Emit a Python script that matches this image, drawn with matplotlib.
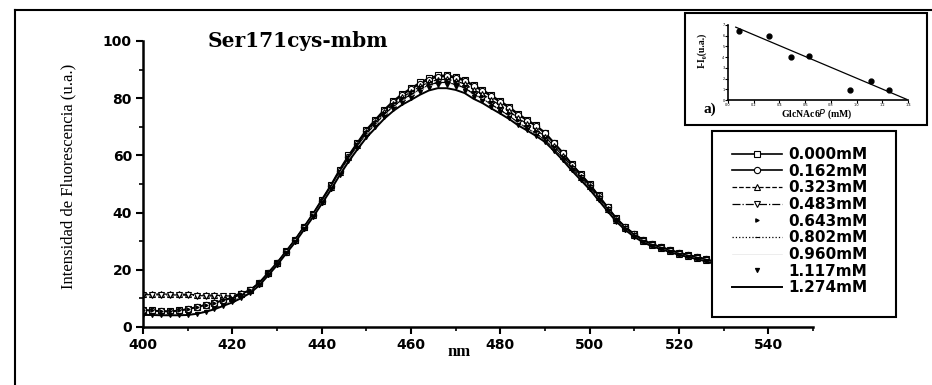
import numpy as np
import matplotlib
matplotlib.use("Agg")
from matplotlib import pyplot as plt
from matplotlib.lines import Line2D
from matplotlib.patches import Rectangle

# emission wavelengths (nm), 2 nm step
wl = np.arange(400, 531, 2)

# fluorescence intensity (u.a.) for each GlcNAc6P concentration
s000 = [6.0, 5.8, 5.6, 5.5, 5.8, 6.3, 7.0, 7.8, 8.5, 9.4,
        10.3, 11.6, 13.0, 15.5, 19.0, 22.5, 26.5, 30.5, 35.0, 39.5,
        44.5, 49.5, 55.0, 60.0, 64.5, 69.0, 72.5, 76.0, 79.0, 81.5,
        83.5, 85.5, 87.0, 88.0, 88.0, 87.5, 86.5, 84.5, 83.0, 81.0,
        79.0, 77.0, 74.5, 72.5, 70.5, 68.0, 64.5, 61.0, 57.0, 53.5,
        50.0, 46.0, 42.0, 38.0, 35.0, 32.5, 30.5, 29.0, 28.0, 27.0,
        26.0, 25.3, 24.5, 23.8, 22.8, 21.8]
s162 = [5.9, 5.7, 5.5, 5.4, 5.7, 6.2, 6.9, 7.7, 8.4, 9.3,
        10.2, 11.5, 12.9, 15.3, 18.8, 22.3, 26.3, 30.3, 34.8, 39.3,
        44.2, 49.2, 54.6, 59.6, 64.1, 68.5, 72.1, 75.6, 78.6, 81.1,
        83.1, 85.0, 86.5, 87.5, 87.6, 87.1, 86.1, 84.2, 82.6, 80.6,
        78.6, 76.6, 74.2, 72.2, 70.2, 67.7, 64.2, 60.7, 56.8, 53.3,
        49.8, 45.8, 41.8, 37.9, 34.9, 32.4, 30.4, 28.9, 27.9, 26.9,
        25.9, 25.2, 24.4, 23.7, 22.7, 21.7]
s323 = [11.6, 11.6, 11.5, 11.5, 11.5, 11.4, 11.3, 11.2, 11.1, 11.0,
        11.0, 11.8, 13.0, 15.3, 18.8, 22.3, 26.3, 30.3, 34.8, 39.3,
        44.0, 49.0, 54.3, 59.3, 63.8, 68.1, 71.6, 75.0, 77.9, 80.3,
        82.2, 84.1, 85.6, 86.5, 86.6, 86.0, 85.0, 83.0, 81.4, 79.4,
        77.5, 75.5, 73.0, 71.0, 69.0, 66.6, 63.2, 59.8, 56.0, 52.6,
        49.2, 45.3, 41.4, 37.5, 34.5, 32.1, 30.1, 28.6, 27.6, 26.6,
        25.6, 24.9, 24.1, 23.4, 22.4, 21.4]
s483 = [11.3, 11.3, 11.2, 11.2, 11.2, 11.1, 11.0, 10.9, 10.8, 10.8,
        10.9, 11.6, 12.8, 15.1, 18.6, 22.1, 26.1, 30.0, 34.5, 39.0,
        43.7, 48.6, 53.9, 58.8, 63.2, 67.5, 70.9, 74.3, 77.1, 79.5,
        81.3, 83.2, 84.6, 85.5, 85.5, 84.8, 83.6, 81.5, 79.8, 77.8,
        75.8, 73.8, 71.4, 69.5, 67.6, 65.4, 62.2, 58.9, 55.3, 52.0,
        48.6, 44.8, 41.0, 37.2, 34.3, 31.9, 29.9, 28.5, 27.5, 26.5,
        25.5, 24.8, 24.0, 23.3, 22.3, 21.3]
s643 = [6.0, 5.8, 5.6, 5.5, 5.8, 6.3, 7.0, 7.8, 8.5, 9.4,
        10.3, 11.5, 12.9, 15.3, 18.8, 22.3, 26.2, 30.2, 34.6, 39.1,
        43.9, 48.9, 54.2, 59.1, 63.5, 67.8, 71.2, 74.7, 77.5, 79.9,
        81.8, 83.7, 85.1, 86.0, 86.0, 85.4, 84.3, 82.2, 80.6, 78.6,
        76.7, 74.7, 72.3, 70.4, 68.4, 66.1, 62.8, 59.4, 55.7, 52.4,
        49.0, 45.1, 41.2, 37.4, 34.5, 32.0, 30.0, 28.6, 27.6, 26.6,
        25.6, 24.9, 24.1, 23.4, 22.4, 21.4]
s802 = [4.5, 4.4, 4.4, 4.3, 4.3, 4.4, 4.8, 5.5, 6.5, 7.7,
        8.9, 10.4, 12.2, 14.8, 18.3, 21.9, 25.9, 29.9, 34.3, 38.8,
        43.6, 48.5, 53.8, 58.7, 63.1, 67.4, 70.8, 74.2, 77.0, 79.4,
        81.2, 83.1, 84.6, 85.5, 85.5, 84.8, 83.6, 81.5, 79.8, 77.8,
        75.8, 73.8, 71.4, 69.5, 67.6, 65.4, 62.2, 58.9, 55.3, 52.0,
        48.6, 44.8, 41.0, 37.2, 34.3, 31.9, 29.9, 28.5, 27.5, 26.5,
        25.5, 24.8, 24.0, 23.3, 22.3, 21.3]
s960 = [4.4, 4.4, 4.3, 4.3, 4.3, 4.4, 4.8, 5.5, 6.4, 7.6,
        8.8, 10.3, 12.1, 14.7, 18.2, 21.8, 25.8, 29.8, 34.2, 38.7,
        43.4, 48.3, 53.6, 58.4, 62.8, 67.0, 70.4, 73.8, 76.6, 78.9,
        80.7, 82.6, 84.1, 85.0, 85.0, 84.3, 83.1, 81.0, 79.3, 77.3,
        75.4, 73.4, 71.0, 69.1, 67.2, 65.0, 61.9, 58.6, 55.0, 51.7,
        48.4, 44.6, 40.8, 37.0, 34.1, 31.7, 29.8, 28.4, 27.4, 26.4,
        25.4, 24.7, 23.9, 23.2, 22.2, 21.2]
s1117 = [4.3, 4.3, 4.2, 4.2, 4.2, 4.3, 4.7, 5.4, 6.3, 7.5,
         8.7, 10.2, 12.0, 14.6, 18.1, 21.7, 25.7, 29.7, 34.1, 38.5,
         43.2, 48.1, 53.3, 58.1, 62.5, 66.6, 70.0, 73.4, 76.1, 78.4,
         80.2, 82.1, 83.6, 84.5, 84.5, 83.8, 82.6, 80.5, 78.9, 76.9,
         75.0, 73.0, 70.7, 68.8, 66.9, 64.8, 61.7, 58.4, 54.8, 51.5,
         48.2, 44.4, 40.6, 36.9, 34.0, 31.6, 29.7, 28.3, 27.3, 26.3,
         25.3, 24.6, 23.8, 23.1, 22.1, 21.1]
s1274 = [4.2, 4.2, 4.1, 4.1, 4.1, 4.2, 4.6, 5.3, 6.2, 7.4,
         8.6, 10.1, 11.9, 14.5, 18.0, 21.6, 25.6, 29.5, 33.9, 38.3,
         43.0, 47.8, 53.0, 57.8, 62.1, 66.2, 69.5, 72.8, 75.5, 77.7,
         79.4, 81.2, 82.7, 83.5, 83.5, 82.9, 81.8, 79.8, 78.3, 76.4,
         74.6, 72.7, 70.5, 68.7, 66.8, 64.7, 61.6, 58.3, 54.7, 51.4,
         48.1, 44.3, 40.5, 36.8, 33.9, 31.5, 29.6, 28.2, 27.2, 26.2,
         25.2, 24.5, 23.7, 23.0, 22.0, 21.0]

labels = ["0.000mM", "0.162mM", "0.323mM", "0.483mM", "0.643mM",
          "0.802mM", "0.960mM", "1.117mM", "1.274mM"]
series = [s000, s162, s323, s483, s643, s802, s960, s1117, s1274]

# inset a): I - I0 vs GlcNAc6P
ins_x = [0.085, 0.32, 0.49, 0.63, 0.95, 1.11, 1.25]
ins_y = [6.4, 6.0, 4.0, 4.1, 0.9, 1.8, 0.9]
fit_x = [0.06, 1.39]
fit_y = [6.8, 0.06]

W, H = 932, 385
fig = plt.figure(figsize=(W / 100, H / 100), dpi=100)

# outer frame of the scanned page
fig.add_artist(Line2D([15 / W, 15 / W], [0, 1 - 10 / H], color="k", lw=1.5))
fig.add_artist(Line2D([15 / W, 1], [1 - 10 / H, 1 - 10 / H], color="k", lw=1.5))

ax = fig.add_axes([143 / W, 1 - 327 / H, (813 - 143) / W, (327 - 41) / H])

styles = [
    dict(ls="-", marker="s", mfc="white", ms=4.5, lw=1.2),
    dict(ls="-", marker="o", mfc="white", ms=4.5, lw=1.2),
    dict(ls="--", marker="^", mfc="white", ms=4.5, lw=0.9),
    dict(ls="-.", marker="v", mfc="white", ms=4.5, lw=0.9),
    dict(ls="None", marker=">", ms=2.5),
    dict(ls=":", marker="_", ms=3.5, lw=0.9),
    dict(ls="-", lw=0.5, color="#e6e6e6"),
    dict(ls="None", marker="v", ms=3),
    dict(ls="-", lw=1.4),
]
for y, lab, st in zip(series, labels, styles):
    st = dict(st)
    st.setdefault("color", "k")
    ax.plot(wl, y, label=lab, mec="k", mew=0.8, **st)

ax.set_xlim(400, 550)
ax.set_ylim(0, 100)
ax.set_xticks(np.arange(400, 541, 20))
ax.set_xticks(np.arange(410, 551, 10), minor=True)
ax.set_yticks(np.arange(0, 101, 20))
ax.set_yticks(np.arange(10, 100, 20), minor=True)
for sp in ["top", "right"]:
    ax.spines[sp].set_visible(False)
for sp in ["left", "bottom"]:
    ax.spines[sp].set_linewidth(1.8)
ax.tick_params(which="major", direction="out", length=5, width=1.5, pad=3)
ax.tick_params(which="minor", direction="out", length=3, width=1.2)
for t in ax.get_xticklabels() + ax.get_yticklabels():
    t.set_family("DejaVu Sans")
    t.set_weight("bold")
    t.set_size(10)

ax.text(414.5, 100, "Ser171cys-mbm", family="DejaVu Serif", weight="bold",
        size=14.5, ha="left", va="center")
fig.text(459 / W, 1 - 352 / H, "nm", family="Liberation Serif", weight="bold",
         size=12, ha="center", va="center")
fig.text(68 / W, 1 - 176 / H, "Intensidad de Fluorescencia (u.a.)",
         family="Liberation Serif", size=12, rotation=90, ha="center", va="center")

# legend box drawn separately so its size matches the scan
ax.add_patch(Rectangle((712 / W, 1 - 317 / H), (896 - 712) / W, (317 - 131) / H,
                       transform=fig.transFigure, fc="white", ec="k", lw=1.5,
                       zorder=4, clip_on=False))
leg = ax.legend(loc="upper left", bbox_to_anchor=(729 / W, 1 - 144 / H),
                bbox_transform=fig.transFigure, borderaxespad=0, frameon=False,
                prop=dict(family="DejaVu Sans", weight="bold", size=11),
                handlelength=3.3, handletextpad=0.35, labelspacing=0.11,
                borderpad=0.2)
leg.set_zorder(5)

# inset box
fig.add_artist(Rectangle((685 / W, 1 - 125 / H), (927 - 685) / W, (125 - 13) / H,
                         transform=fig.transFigure, fc="white", ec="k", lw=1.5,
                         zorder=6))
iax = fig.add_axes([728 / W, 1 - 100 / H, (908 - 728) / W, 75 / H], zorder=7)
iax.patch.set_alpha(0)
iax.plot(ins_x, ins_y, "o", color="k", ms=3.5)
iax.plot(fit_x, fit_y, "-", color="k", lw=0.9)
iax.set_xlim(0, 1.4)
iax.set_ylim(0, 7)
iax.set_xticks(np.arange(0, 1.41, 0.2))
iax.set_yticks(np.arange(0, 7.1, 1))
for sp in ["top", "right"]:
    iax.spines[sp].set_visible(False)
for sp in ["left", "bottom"]:
    iax.spines[sp].set_linewidth(1.2)
iax.tick_params(direction="out", length=2, width=0.8, labelsize=2.5, pad=0.5)
fig.text(817 / W, 1 - 114 / H, "GlcNAc6$P$ (mM)", family="Liberation Serif",
         weight="bold", size=7, ha="center", va="center", zorder=8)
fig.text(702 / W, 1 - 50 / H, "I-I\u2080(u.a.)", family=["Liberation Serif", "DejaVu Serif"],
         weight="bold", size=7, rotation=90, ha="center", va="center", zorder=8)
fig.text(710 / W, 1 - 109 / H, "a)", family="Liberation Serif", weight="bold",
         size=11, ha="center", va="center", zorder=8)

fig.savefig("out.png", dpi=100)
